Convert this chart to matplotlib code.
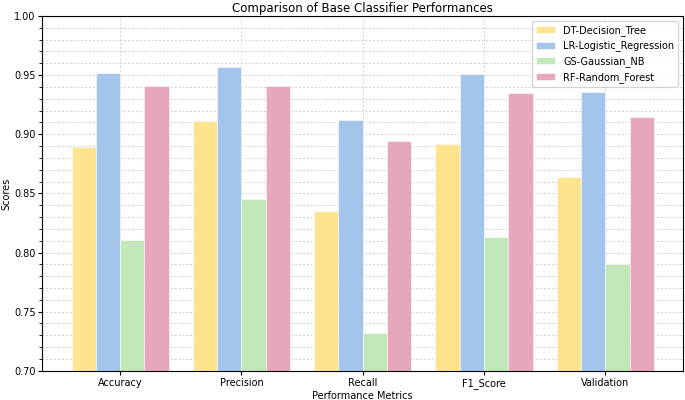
import numpy as np
import matplotlib
matplotlib.use('Agg')
import matplotlib.pyplot as plt
from matplotlib.ticker import MultipleLocator

metrics = ['Accuracy', 'Precision', 'Recall', 'F1_Score', 'Validation']
dt_scores = [0.889, 0.911, 0.835, 0.892, 0.864]
lr_scores = [0.952, 0.957, 0.912, 0.951, 0.936]
gs_scores = [0.811, 0.845, 0.732, 0.813, 0.790]
rf_scores = [0.941, 0.941, 0.894, 0.935, 0.915]
labels = ['DT-Decision_Tree', 'LR-Logistic_Regression', 'GS-Gaussian_NB', 'RF-Random_Forest']
colors = ['#ffe490', '#a3c5ec', '#c2e7b8', '#e6a6bb']

fig = plt.figure(figsize=(6.85, 4), dpi=100)
ax = fig.add_axes([0.062, 0.073, 0.935, 0.887])

x = np.arange(len(metrics))
w = 0.2
for i, (vals, lab, c) in enumerate(zip([dt_scores, lr_scores, gs_scores, rf_scores], labels, colors)):
    ax.bar(x + (i - 1.5) * w, vals, w, color=c, label=lab, edgecolor='white', linewidth=0.4, zorder=2)

ax.set_ylim(0.70, 1.00)
ax.yaxis.set_major_locator(MultipleLocator(0.05))
ax.yaxis.set_minor_locator(MultipleLocator(0.01))
ax.set_xticks(x)
ax.set_xticklabels(metrics)
ax.grid(which='major', linestyle=(0, (2, 2)), color='#d0d0d0', linewidth=0.7, zorder=0)
ax.grid(which='minor', axis='y', linestyle=(0, (2, 2)), color='#d0d0d0', linewidth=0.7, zorder=0)
ax.set_axisbelow(True)
ax.tick_params(labelsize=7, pad=2)
ax.tick_params(which='major', length=3)
ax.tick_params(which='minor', length=2)
ax.set_xlabel('Performance Metrics', fontsize=7, labelpad=2)
ax.set_ylabel('Scores', fontsize=7, labelpad=2)
ax.set_title('Comparison of Base Classifier Performances', fontsize=8.5, pad=3)
ax.legend(fontsize=7, loc='upper right')

fig.savefig('out.png', dpi=100)
